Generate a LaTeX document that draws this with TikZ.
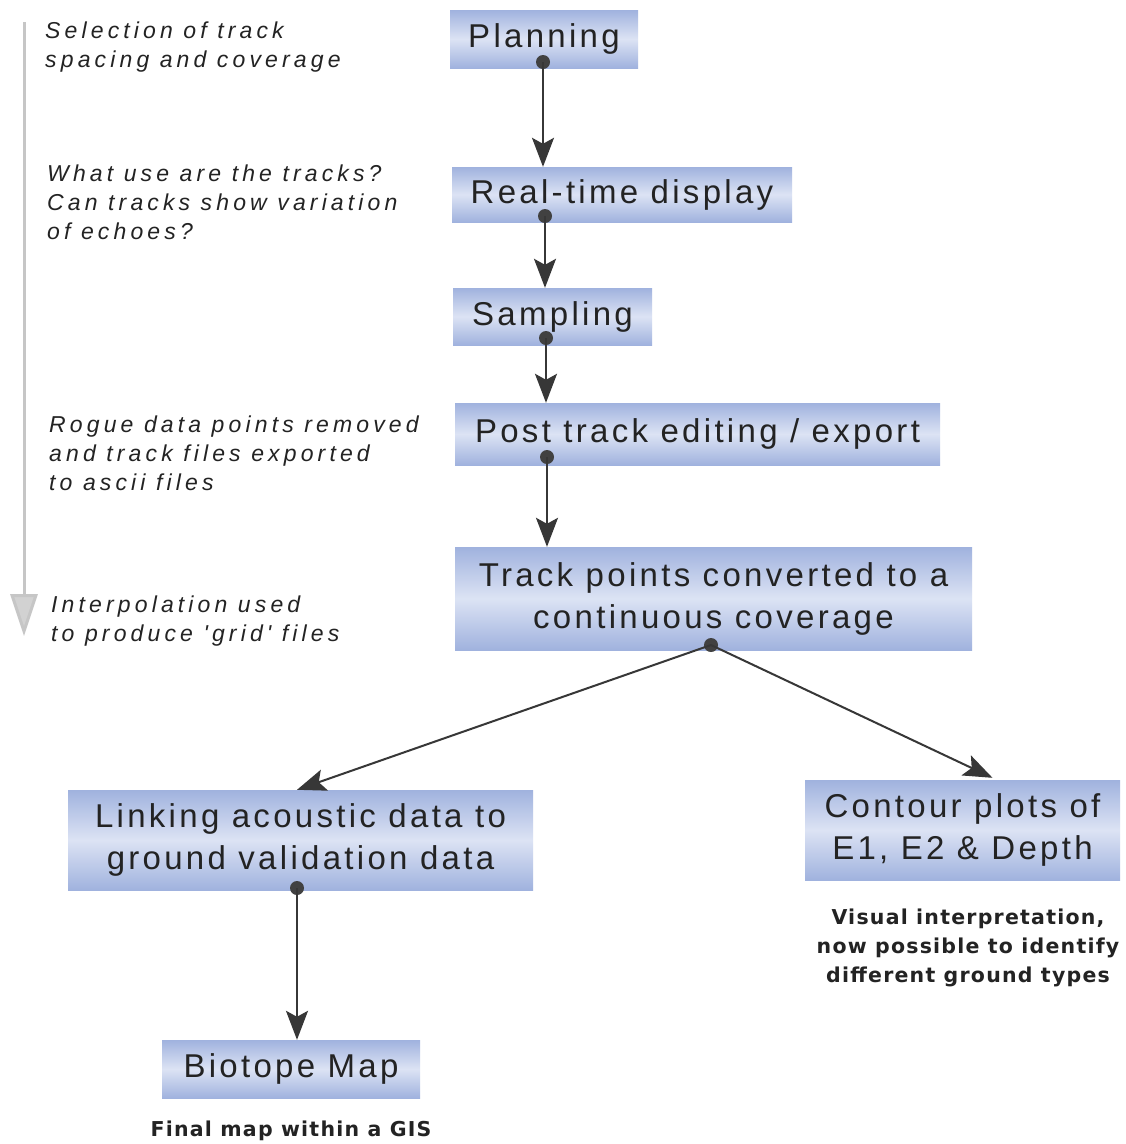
\documentclass[tikz,border=0pt]{standalone}
\usepackage{fontspec}
\setmainfont{Liberation Sans}
\newfontfamily\boxfont[LetterSpace=10]{Liberation Sans}
\newfontfamily\notefont[LetterSpace=18]{Liberation Sans}
\newfontfamily\comicfont[LetterSpace=6]{DejaVu Sans}
\usetikzlibrary{arrows.meta,calc}
\definecolor{boxblue}{RGB}{160,178,222}
\definecolor{boxlight}{RGB}{220,227,244}
\definecolor{inkdark}{RGB}{35,35,35}
\definecolor{linegray}{RGB}{55,55,55}
\definecolor{dotgray}{RGB}{65,65,65}
\tikzset{
  stepbox/.style={rectangle, inner sep=0pt, top color=boxblue, bottom color=boxblue, middle color=boxlight, text=inkdark, align=center, font=\boxfont\fontsize{33}{42}\selectfont},
  dotmark/.style={circle, fill=dotgray, inner sep=0pt, minimum size=14pt},
  flow/.style={draw=linegray, line width=2pt, -{Stealth[length=29pt, width=22pt, inset=6pt]}},
  notetext/.style={anchor=north west, align=left, text=inkdark, font=\notefont\itshape\fontsize{23}{29}\selectfont, inner sep=0pt},
  comictext/.style={align=center, text=inkdark, font=\comicfont\bfseries\fontsize{20.5}{29}\selectfont, inner sep=0pt},
}
\begin{document}
\begin{tikzpicture}[x=1pt, y=-1pt]
\useasboundingbox[fill=white] (0,0) rectangle (1126,1144);

% left gray timeline arrow
\coordinate (tl0) at (24,22);
\coordinate (tl1) at (24,636);
\draw[gray!45, line width=3pt, -{Triangle[length=42pt, width=27pt, fill=gray!35]}] (tl0) -- (tl1);

% boxes
\node[stepbox, minimum width=188pt, minimum height=58pt] (plan) at (544,39) {Planning};
\node[stepbox, minimum width=340pt, minimum height=55pt] (rt) at (622,194.5) {Real-time display};
\node[stepbox, minimum width=199pt, minimum height=57pt] (samp) at (552.5,316.5) {Sampling};
\node[stepbox, minimum width=485pt, minimum height=62pt] (post) at (697.5,434) {Post track editing / export};
\node[stepbox, minimum width=517pt, minimum height=103pt] (track) at (713.5,598.5) {Track points converted to a\\continuous coverage};
\node[stepbox, minimum width=465pt, minimum height=100pt] (link) at (300.5,840) {Linking acoustic data to\\ground validation data};
\node[stepbox, minimum width=315pt, minimum height=100pt] (cont) at (962.5,830) {Contour plots of\\E1, E2 \& Depth};
\node[stepbox, minimum width=258pt, minimum height=58pt] (bio) at (291,1069) {Biotope Map};

% dots
\node[dotmark] (dplan) at (543,62) {};
\node[dotmark] (drt) at (545,216) {};
\node[dotmark] (dsamp) at (546,338) {};
\node[dotmark] (dpost) at (547,457) {};
\node[dotmark] (dtrack) at (711,645) {};
\node[dotmark] (dlink) at (297,888) {};

% connectors
\draw[flow] (dplan.center) -- (dplan.center |- rt.north);
\draw[flow] (drt.center) -- (drt.center |- samp.north);
\draw[flow] (dsamp.center) -- (dsamp.center |- post.north);
\draw[flow] (dpost.center) -- (dpost.center |- track.north);
\draw[flow] (dtrack.center) -- (dlink.center |- link.north);
\draw[flow] (dtrack.center) -- ($(cont.north)+(30,-2)$);
\draw[flow] (dlink.center) -- (dlink.center |- bio.north);

% left notes
\node[notetext] (n1) at (45,22) {Selection of track\\spacing and coverage};
\node[notetext] (n2) at (47,165) {What use are the tracks?\\Can tracks show variation\\of echoes?};
\node[notetext] (n3) at (49,416) {Rogue data points removed\\and track files exported\\to ascii files};
\node[notetext] (n4) at (51,596) {Interpolation used\\to produce 'grid' files};

% bottom notes
\node[comictext] (c1) at (968,948) {Visual interpretation,\\now possible to identify\\different ground types};
\node[comictext] (c2) at (291,1131) {Final map within a GIS};
\end{tikzpicture}
\end{document}
